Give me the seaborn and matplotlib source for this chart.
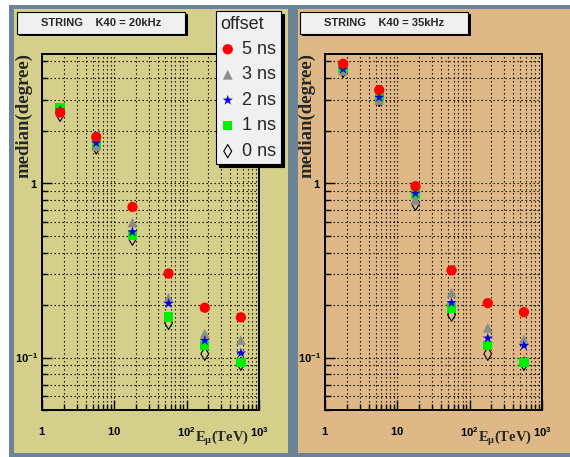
import matplotlib
matplotlib.use("Agg")
import matplotlib.pyplot as plt
from matplotlib.patches import Rectangle
from matplotlib.ticker import NullFormatter
import seaborn as sns

# muon energy bin centres (TeV)
energy = [1.78, 5.62, 17.8, 56.2, 178, 562]

# median angular error (degree), K40 rate 20 kHz
k20_5ns = [2.54, 1.84, 0.73, 0.303, 0.193, 0.170]
k20_3ns = [2.58, 1.63, 0.594, 0.220, 0.137, 0.126]
k20_2ns = [2.62, 1.70, 0.525, 0.204, 0.125, 0.106]
k20_1ns = [2.72, 1.69, 0.502, 0.171, 0.117, 0.094]
k20_0ns = [2.46, 1.60, 0.48, 0.158, 0.105, 0.092]

# median angular error (degree), K40 rate 35 kHz
k35_5ns = [4.83, 3.42, 0.96, 0.316, 0.205, 0.182]
k35_3ns = [4.42, 3.00, 0.80, 0.235, 0.148, 0.127]
k35_2ns = [4.50, 3.10, 0.873, 0.206, 0.129, 0.117]
k35_1ns = [4.58, 3.13, 0.865, 0.192, 0.117, 0.094]
k35_0ns = [4.40, 3.00, 0.76, 0.176, 0.105, 0.092]

offset_labels = ["5 ns", "3 ns", "2 ns", "1 ns", "0 ns"]
xtick_vals = [1, 10, 100, 1000]
xtick_labels = [r"$\mathsf{1}$", r"$\mathsf{10}$", r"$\mathsf{10^{2}}$", r"$\mathsf{10^{3}}$"]
ytick_vals = [0.1, 1]
ytick_labels = [r"$\mathsf{10^{-1}}$", r"$\mathsf{1}$"]

panels = [
    ("STRING    K40 = 20kHz", "#d4cf8a", {"5 ns": k20_5ns, "3 ns": k20_3ns, "2 ns": k20_2ns,
                                          "1 ns": k20_1ns, "0 ns": k20_0ns}),
    ("STRING    K40 = 35kHz", "#deb887", {"5 ns": k35_5ns, "3 ns": k35_3ns, "2 ns": k35_2ns,
                                          "1 ns": k35_1ns, "0 ns": k35_0ns}),
]

# marker styles (drawn bottom to top)
STYLES = {
    "0 ns": dict(marker="d", s=45, facecolor="none", edgecolor="black", linewidth=0.8, zorder=3),
    "1 ns": dict(marker="s", s=45, color="#00ee00", edgecolor="none", zorder=4),
    "3 ns": dict(marker="^", s=50, color="#8c8c8c", edgecolor="none", zorder=5),
    "2 ns": dict(marker="*", s=60, color="#0000ee", edgecolor="none", zorder=6),
    "5 ns": dict(marker="o", s=55, color="#ff0000", edgecolor="none", zorder=7),
}

W, H = 570, 457


def fx(px):
    return px / W


def fy(py):
    return 1 - py / H


def rect(x0, y0, x1, y1, **kw):
    return Rectangle((fx(x0), fy(y1)), (x1 - x0) / W, (y1 - y0) / H,
                     transform=fig.transFigure, **kw)


sns.set_style("ticks")
plt.rcParams["font.family"] = ["Liberation Sans", "DejaVu Sans"]
plt.rcParams["mathtext.fontset"] = "custom"
plt.rcParams["mathtext.rm"] = "Liberation Serif:bold"
plt.rcParams["mathtext.it"] = "Liberation Serif:bold"
plt.rcParams["mathtext.bf"] = "Liberation Serif:bold"
plt.rcParams["mathtext.sf"] = "Liberation Sans:bold"

fig = plt.figure(figsize=(W / 100, H / 100), dpi=100)
fig.patch.set_facecolor("white")
fig.patches.append(rect(9, 5, 570, 457, facecolor="#6d8396", edgecolor="none", zorder=-20))

for i, (title, bg, series) in enumerate(panels):
    dx = 283 * i
    panel_x0 = 14 if i == 0 else 298
    panel_x1 = 288 if i == 0 else 570
    fig.patches.append(rect(panel_x0, 9, panel_x1, 453, facecolor=bg, edgecolor="none", zorder=-10))

    ax = fig.add_axes([fx(42 + dx), fy(410), 217 / W, 356 / H])
    ax.set_facecolor("none")

    for name in ["0 ns", "1 ns", "3 ns", "2 ns", "5 ns"]:
        sns.scatterplot(x=energy, y=series[name], ax=ax, label=name, legend=False, **STYLES[name])

    ax.set_xscale("log")
    ax.set_yscale("log")
    ax.set_xlim(1, 1000)
    ax.set_ylim(0.05, 5.5)
    ax.set_xticks(xtick_vals, xtick_labels)
    ax.set_yticks(ytick_vals, ytick_labels)
    ax.xaxis.set_minor_formatter(NullFormatter())
    ax.yaxis.set_minor_formatter(NullFormatter())
    ax.tick_params(which="both", direction="in", colors="black", labelsize=8)
    ax.tick_params(axis="x", which="major", length=7, width=1, pad=11)
    ax.tick_params(axis="x", which="minor", length=4, width=1)
    ax.tick_params(axis="y", which="major", length=7, width=1, pad=3)
    ax.tick_params(axis="y", which="minor", length=4, width=1)
    ax.grid(True, which="both", color="black", linestyle=(0, (1.2, 2.4)), linewidth=0.8)
    for sp in ax.spines.values():
        sp.set_linewidth(1.4)
        sp.set_color("black")

    # title box with shadow
    fig.patches.append(rect(19 + dx, 14, 188 + dx, 36, facecolor="black", edgecolor="none", zorder=1))
    fig.patches.append(rect(17 + dx, 12, 185 + dx, 34, facecolor="#f0f0f0", edgecolor="black",
                            linewidth=0.8, zorder=2))
    fig.text(fx(101 + dx), fy(23.5), title, ha="center", va="center", fontsize=8,
             fontweight="bold", family=["Liberation Sans Narrow", "Liberation Sans"], zorder=3)

    fig.text(fx(24 + dx), fy(53), "median(degree)", rotation=90, ha="center", va="top",
             fontsize=13.5, fontweight="bold", family="Liberation Serif")
    fig.text(fx(195 + dx), fy(438), r"$\mathrm{E}_{\mu}\mathrm{(TeV)}$", ha="left", va="center",
             fontsize=10.5)

    if i == 0:
        handles, labels = ax.get_legend_handles_labels()
        lookup = dict(zip(labels, handles))
        leg = fig.legend([lookup[n] for n in offset_labels], offset_labels, title="offset",
                         loc="upper left", bbox_to_anchor=(fx(216), fy(11)), borderaxespad=0,
                         fontsize=13, title_fontsize=13, alignment="left", frameon=True,
                         fancybox=False, edgecolor="black", facecolor="#f0f0f0", framealpha=1,
                         handlelength=0.8, handletextpad=0.4, labelspacing=0.47, borderpad=0.25,
                         shadow={"facecolor": "black", "edgecolor": "black", "alpha": 1})
        leg.get_frame().set_linewidth(0.8)

fig.savefig("out.png", dpi=100, facecolor=fig.get_facecolor())
plt.close(fig)
